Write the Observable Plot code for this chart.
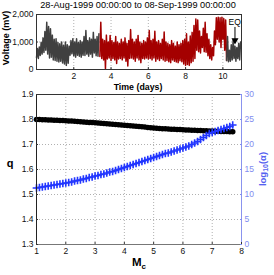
<!DOCTYPE html>
<html><head><meta charset="utf-8">
<script src="https://cdn.jsdelivr.net/npm/d3@7"></script>
<script src="https://cdn.jsdelivr.net/npm/@observablehq/plot@0.6"></script>
<style>
html,body{margin:0;padding:0;background:#fff;}
#wrap{position:relative;width:274px;height:275px;overflow:hidden;font-family:"Liberation Sans",Arial,sans-serif;color:#000;}
#wrap svg{position:absolute;left:0;}
.lab{position:absolute;white-space:nowrap;transform:translate(-50%,-50%);line-height:1;}
</style>
</head><body>
<div id="wrap"></div>
<script>
// ---- top panel: voltage record (min/max envelope per 0.1-day bin) ----
const voltT = [0.0,0.1,0.2,0.3,0.4,0.5,0.6,0.7,0.8,0.9,1.0,1.1,1.2,1.3,1.4,1.5,1.6,1.7,1.8,1.9,
2.0,2.1,2.2,2.3,2.4,2.5,2.6,2.7,2.8,2.9,3.0,3.1,3.2,3.3,3.4,3.5,3.6,3.7,3.8,3.9,
4.0,4.1,4.2,4.3,4.4,4.5,4.6,4.7,4.8,4.9,5.0,5.1,5.2,5.3,5.4,5.5,5.6,5.7,5.8,5.9,
6.0,6.1,6.2,6.3,6.4,6.5,6.6,6.7,6.8,6.9,7.0,7.1,7.2,7.3,7.4,7.5,7.6,7.7,7.8,7.9,
8.0,8.1,8.2,8.3,8.4,8.5,8.6,8.7,8.8,8.9,9.0,9.1,9.2,9.3,9.4,9.5,9.6,9.7,9.8,9.9,
10.0,10.1,10.2,10.3,10.4,10.5,10.6,10.7,10.8,10.9];
const voltHi = [760,820,990,1150,1380,1720,1560,1480,1250,1100,1115,980,935,1000,880,1000,900,850,1050,1115,
1000,1115,980,1050,1000,1200,1420,1050,1150,1100,1350,1100,1200,1300,1720,1100,1050,1250,1000,1240,
1050,980,1200,1000,950,1100,1000,1150,950,1050,1450,1100,1000,1100,1240,1000,950,1050,1000,1150,
1420,1050,1100,1390,1000,1050,950,1100,1360,1000,950,900,1050,950,850,1000,900,950,1050,1100,
1300,1000,1220,1350,1600,1840,1800,1400,1200,1500,1720,1300,1100,900,800,1400,1880,1900,1880,1900,
1850,1800,1200,700,900,1050,850,800,950,1000];
const voltLo = [430,400,510,560,620,700,560,420,450,350,330,300,270,300,240,200,150,230,520,570,
500,450,520,480,450,520,510,560,480,560,450,600,500,480,470,400,350,30,380,420,
330,400,350,220,380,400,350,420,300,130,400,420,380,300,420,350,250,400,380,420,
380,400,350,420,300,380,330,400,350,300,330,280,250,350,300,270,250,320,280,200,
150,180,150,250,300,400,700,650,600,800,650,630,500,400,350,500,900,1100,1000,800,
1100,700,330,280,300,350,400,300,400,350];
const redWindow = [3.35, 10.2];          // highlighted interval (days)
const eqTime = [10.65];                   // earthquake marker
const eqArrowFrom = [1530], eqArrowTo = [1060], eqLabelV = [1730];
const voltTicksX = [2,4,6,8,10];
const voltTicksY = [0,1000,2000];
const titleText = "28-Aug-1999 00:00:00 to 08-Sep-1999 00:00:00";

// ---- bottom panel ----
const mc = [1.0,1.1,1.2,1.3,1.4,1.5,1.6,1.7,1.8,1.9,2.0,2.1,2.2,2.3,2.4,2.5,2.6,2.7,2.8,2.9,
3.0,3.1,3.2,3.3,3.4,3.5,3.6,3.7,3.8,3.9,4.0,4.1,4.2,4.3,4.4,4.5,4.6,4.7,4.8,4.9,
5.0,5.1,5.2,5.3,5.4,5.5,5.6,5.7,5.8,5.9,6.0,6.1,6.2,6.3,6.4,6.5,6.6,6.7,6.8,6.9,
7.0,7.1,7.2,7.3,7.4,7.5,7.6,7.7];
const qVals = [1.800,1.800,1.799,1.799,1.798,1.798,1.797,1.797,1.796,1.796,1.795,1.794,1.794,1.793,1.792,1.791,1.790,1.789,1.788,1.788,
1.787,1.786,1.785,1.784,1.783,1.782,1.781,1.780,1.779,1.778,1.777,1.776,1.775,1.774,1.773,1.772,1.771,1.770,1.768,1.767,
1.766,1.765,1.764,1.763,1.763,1.762,1.761,1.761,1.760,1.760,1.759,1.758,1.758,1.757,1.757,1.756,1.756,1.755,1.755,1.754,
1.754,1.753,1.753,1.752,1.752,1.752,1.751,1.751];
const logAlpha = [11.3,11.4,11.5,11.6,11.7,11.8,11.9,12.0,12.1,12.2,12.3,12.4,12.5,12.7,12.8,12.9,13.1,13.2,13.4,13.5,
13.7,13.8,14.0,14.1,14.3,14.5,14.6,14.8,15.0,15.2,15.4,15.6,15.8,16.0,16.2,16.4,16.6,16.8,17.0,17.2,
17.4,17.6,17.8,18.0,18.2,18.3,18.5,18.7,18.9,19.1,19.3,19.5,19.7,20.0,20.3,20.6,21.0,21.4,21.8,22.2,
22.4,22.6,22.8,23.0,23.2,23.4,23.6,23.9];
const mcTicks = [1,2,3,4,5,6,7,8];
const qTicks = [1.3,1.4,1.5,1.6,1.7,1.8,1.9];
const alphaDomain = [0, 30];

// ---- build ----
const series = [];
voltT.forEach((t, i) => {
  series.push({t: t, v: voltLo[i]});
  series.push({t: t + 0.05, v: voltHi[i]});
});
const segA = series.filter(d => d.t <= redWindow[0]);
const segB = series.filter(d => d.t >= redWindow[0] && d.t <= redWindow[1]);
const segC = series.filter(d => d.t >= redWindow[1]);

const FONT = '"Liberation Sans", Arial, sans-serif';
const GRID = {stroke: "#b0b0b0", strokeOpacity: 1, strokeDasharray: "1,2"};
const wrap = document.getElementById("wrap");

const topChart = Plot.plot({
  width: 274, height: 92,
  marginTop: 14, marginBottom: 23, marginLeft: 36, marginRight: 33,
  style: {fontFamily: FONT, fontSize: "8.5px", background: "transparent", color: "#111"},
  x: {domain: [0, 11], label: null},
  y: {domain: [0, 2000], label: null},
  marks: [
    Plot.gridX(voltTicksX, GRID),
    Plot.gridY([1000], GRID),
    Plot.line(segA, {x: "t", y: "v", stroke: "#404040", strokeWidth: 1.5}),
    Plot.line(segB, {x: "t", y: "v", stroke: "#a40000", strokeWidth: 1.5}),
    Plot.line(segC, {x: "t", y: "v", stroke: "#404040", strokeWidth: 1.5}),
    Plot.ruleX(eqTime, {y1: eqArrowFrom, y2: eqArrowTo, stroke: "#000", strokeWidth: 1}),
    Plot.dot(eqTime, {x: d => d, y: eqArrowTo, symbol: "triangle", rotate: 180, r: 2.6, fill: "#000", stroke: "none"}),
    Plot.text(eqTime, {x: d => d - 0.02, y: eqLabelV, text: () => "EQ", fontSize: 8.5, fill: "#000"}),
    Plot.frame({stroke: "#333"}),
    Plot.axisX(voltTicksX, {tickSize: -2, tickPadding: 5, label: null, stroke: "#333"}),
    Plot.axisY(voltTicksY, {tickSize: -2, tickPadding: 5, label: null, stroke: "#333"})
  ]
});
topChart.style.top = "0px";
wrap.appendChild(topChart);

const toQ = d3.scaleLinear().domain(alphaDomain).range([qTicks[0], qTicks[qTicks.length - 1]]);
const bottomChart = Plot.plot({
  width: 274, height: 185,
  marginTop: 4, marginBottom: 31, marginLeft: 36, marginRight: 33,
  style: {fontFamily: FONT, fontSize: "8.5px", background: "transparent", color: "#111"},
  x: {domain: [1, 8], label: null},
  y: {domain: [1.3, 1.9], label: null},
  marks: [
    Plot.gridX(mcTicks.slice(1, -1), GRID),
    Plot.gridY(qTicks.slice(1, -1), GRID),
    Plot.dot(mc, {x: d => d, y: (d, i) => qVals[i], r: 2.8, fill: "#000", stroke: "none"}),
    Plot.dot(mc, {x: d => d, y: (d, i) => toQ(logAlpha[i]), symbol: "plus", r: 2.6, stroke: "#2236ff", strokeWidth: 1.6}),
    Plot.ruleY([1.9], {stroke: "#333"}),
    Plot.ruleY([1.3], {stroke: "#777"}),
    Plot.ruleX([1], {stroke: "#222"}),
    Plot.ruleX([8], {stroke: "#8a93ee"}),
    Plot.axisX(mcTicks, {tickSize: -2, tickPadding: 5, label: null, stroke: "#333"}),
    Plot.axisY(qTicks, {anchor: "left", tickSize: -2, tickPadding: 5, label: null, stroke: "#333"}),
    Plot.axisY(qTicks, {anchor: "right", tickSize: -2, tickPadding: 5, label: null, stroke: "#7f8cf0", fill: "#7f8cf0",
      tickFormat: d => String(Math.round(toQ.invert(d)))})
  ]
});
bottomChart.style.top = "90px";
wrap.appendChild(bottomChart);

function label(html, x, y, opts = {}) {
  const el = document.createElement("div");
  el.className = "lab";
  el.innerHTML = html;
  el.style.left = x + "px";
  el.style.top = y + "px";
  el.style.fontSize = (opts.size || 9) + "px";
  if (opts.bold) el.style.fontWeight = "bold";
  if (opts.color) el.style.color = opts.color;
  if (opts.rotate) el.style.transform = `translate(-50%,-50%) rotate(${opts.rotate}deg)`;
  wrap.appendChild(el);
}
label(titleText, 138, 5.5, {size: 9.2});
label("Voltage (mV)", 5.5, 38, {size: 9, bold: true, rotate: -90});
label("Time (days)", 138, 87, {size: 8.8, bold: true});
label("q", 10, 163, {size: 11, bold: true});
label("M<sub style='font-size:8px;vertical-align:-3px'>c</sub>", 139, 264, {size: 11.5, bold: true});
label("log<sub style='font-size:7px;vertical-align:-2px'>10</sub>(α)", 263, 169, {size: 9.5, bold: true, color: "#5562f0", rotate: -90});
</script>
</body></html>
